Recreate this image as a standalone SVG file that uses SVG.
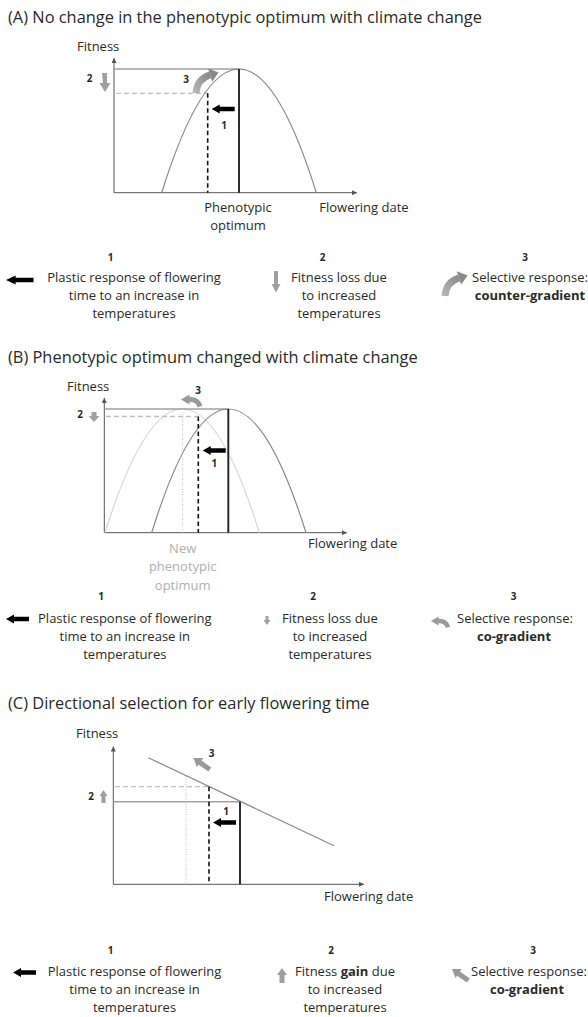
<svg xmlns="http://www.w3.org/2000/svg" width="588" height="1017" viewBox="0 0 588 1017">
<style>
text{font-family:"Open Sans","Liberation Sans",sans-serif;fill:#2a2a2a}
.ttl{font-size:16.4px}
.lab{font-size:13px}
.num{font-size:10px;font-weight:bold}
.leg{font-size:13px;text-anchor:middle}
.mid{text-anchor:middle}
.b{font-weight:bold}
.faint{fill:#b0b0b0}
.ax{stroke:#555;stroke-width:1;fill:none}
.ref{stroke:#a0a0a0;stroke-width:1.6}
.dg{stroke:#c0c0c0;stroke-width:1.3;stroke-dasharray:5 3}
.curve{stroke:#8a8a8a;stroke-width:1.2;fill:none}
.light{stroke:#d6d6d6}
.vd{stroke:#111;stroke-width:1.6;stroke-dasharray:4.5 3}
.vs{stroke:#222;stroke-width:1.9}
.dot{stroke:#c0c0c0;stroke-width:1;stroke-dasharray:1 1.5}
.ga{fill:#a0a0a0}
</style>
<defs>
<marker id="axh" markerUnits="userSpaceOnUse" markerWidth="5" markerHeight="5" refX="5" refY="2.5" orient="auto"><path d="M0,0 L5,2.5 L0,5 Z" fill="#555"/></marker>
<linearGradient id="gg" x1="0" y1="1" x2="1" y2="0"><stop offset="0" stop-color="#b5b5b5"/><stop offset="1" stop-color="#8a8a8a"/></linearGradient>
<path id="blk" d="M0,0 L8,-4.5 L8,-2.3 L23,-2.3 L23,2.3 L8,2.3 L8,4.5 Z" fill="#000"/>
<g id="curveR"><path d="M4,23 Q5,9 18,5" fill="none" stroke="url(#gg)" stroke-width="7"/><path d="M20.1,11.7 L15.9,-1.7 L26.6,2.4 Z" fill="#8a8a8a"/></g>
<g id="curveL"><path d="M20,11.5 Q18,4 9,4.5" fill="none" stroke="#9a9a9a" stroke-width="5"/><path d="M9.5,-0.5 L9.5,9.5 L1,4.5 Z" fill="#9a9a9a"/></g>
<path id="diag" d="M0,0 L8,-5.5 L8,-2.5 L20,-2.5 L20,2.5 L8,2.5 L8,5.5 Z" fill="#9a9a9a"/>
</defs>

<!-- Panel A -->
<g id="panelA">
<text class="ttl" x="8" y="22.7">(A) No change in the phenotypic optimum with climate change</text>
<g id="A-axes">
<line class="ax" x1="114" y1="192.7" x2="114" y2="58" marker-end="url(#axh)"/>
<line class="ax" x1="114" y1="192.7" x2="357" y2="192.7" marker-end="url(#axh)"/>
<text class="lab" x="77" y="50.5">Fitness</text>
<text class="lab" x="319.3" y="211.7">Flowering date</text>
</g>
<g id="A-curve">
<line class="ref" x1="114" y1="69" x2="239" y2="69"/>
<line class="dg" x1="116" y1="93.3" x2="207.7" y2="93.3"/>
<path class="curve" d="M161.7,192.7 Q239,-54.7 316.3,192.7"/>
<line class="vd" x1="207.7" y1="93.3" x2="207.7" y2="192.7"/>
<line class="vs" x1="239" y1="69" x2="239" y2="192.7"/>
</g>
<g id="A-optimum"><text class="lab mid" x="238" y="211.7">Phenotypic</text><text class="lab mid" x="238" y="229.5">optimum</text></g>
<g id="A-arrow1"><use href="#blk" x="211.7" y="109"/><text class="num mid" x="224" y="128.5">1</text></g>
<g id="A-arrow2"><path class="ga" d="M102,73 h5 v10 h3.5 l-5.5,9 l-5.5,-9 h3.5 z"/><text class="num mid" x="89.5" y="81.5">2</text></g>
<g id="A-arrow3"><use href="#curveR" transform="translate(192,70)"/><text class="num mid" x="186" y="82.5">3</text></g>
<g id="A-legend">
<text class="num mid" x="110.6" y="260.5">1</text>
<use href="#blk" transform="translate(6,280) scale(1.2,1)"/>
<text class="leg" x="134" y="282">Plastic response of flowering</text>
<text class="leg" x="134" y="300">time to an increase in</text>
<text class="leg" x="134" y="318">temperatures</text>
<text class="num mid" x="322.5" y="260.5">2</text>
<path class="ga" d="M274,271 h4 v13 h2.5 l-4.5,8.5 l-4.5,-8.5 h2.5 z"/>
<text class="leg" x="339" y="282">Fitness loss due</text>
<text class="leg" x="339" y="300">to increased</text>
<text class="leg" x="339" y="318">temperatures</text>
<text class="num mid" x="525" y="260.5">3</text>
<use href="#curveR" transform="translate(441,273)"/>
<text class="leg" x="530" y="282">Selective response:</text>
<text class="leg b" x="530" y="300">counter-gradient</text>
</g>
</g>

<!-- Panel B -->
<g id="panelB">
<text class="ttl" x="8" y="362.7">(B) Phenotypic optimum changed with climate change</text>
<g id="B-axes">
<line class="ax" x1="104.3" y1="532.7" x2="104.3" y2="398" marker-end="url(#axh)"/>
<line class="ax" x1="104.3" y1="532.7" x2="347" y2="532.7" marker-end="url(#axh)"/>
<text class="lab" x="67" y="391">Fitness</text>
<text class="lab" x="308" y="548.3">Flowering date</text>
</g>
<g id="B-curve">
<path class="curve light" d="M105,532.7 Q182.7,285.3 259.3,532.7"/>
<line class="ref" x1="104.3" y1="409" x2="228.3" y2="409"/>
<line class="dg" x1="106" y1="416.5" x2="198.3" y2="416.5"/>
<path class="curve" d="M151.7,532.7 Q228.3,285.3 306,532.7"/>
<line class="dot" x1="182.7" y1="409" x2="182.7" y2="532.7"/>
<line class="vd" x1="198.3" y1="416.5" x2="198.3" y2="532.7"/>
<line class="vs" x1="228.3" y1="409" x2="228.3" y2="532.7"/>
</g>
<g id="B-optimum"><text class="lab mid faint" x="182.7" y="553">New</text><text class="lab mid faint" x="182.7" y="571">phenotypic</text><text class="lab mid faint" x="182.7" y="589.5">optimum</text></g>
<g id="B-arrow1"><use href="#blk" x="202.7" y="450.5"/><text class="num mid" x="214.3" y="466.5">1</text></g>
<g id="B-arrow2"><path class="ga" d="M91.5,412 h5 v4 h3 l-5.5,6 l-5.5,-6 h3 z"/><text class="num mid" x="80" y="417.5">2</text></g>
<g id="B-arrow3"><use href="#curveL" transform="translate(180,395)"/><text class="num mid" x="198" y="393.5">3</text></g>
<g id="B-legend">
<text class="num mid" x="101" y="600.3">1</text>
<use href="#blk" transform="translate(6,619)"/>
<text class="leg" x="124.8" y="623">Plastic response of flowering</text>
<text class="leg" x="124.8" y="641">time to an increase in</text>
<text class="leg" x="124.8" y="659">temperatures</text>
<text class="num mid" x="313" y="600.3">2</text>
<path class="ga" d="M265.5,616 h3 v4 h2 l-3.5,5 l-3.5,-5 h2 z"/>
<text class="leg" x="330" y="623">Fitness loss due</text>
<text class="leg" x="330" y="641">to increased</text>
<text class="leg" x="330" y="659">temperatures</text>
<text class="num mid" x="513.7" y="600.3">3</text>
<use href="#curveL" transform="translate(430,617) scale(0.9)"/>
<text class="leg" x="515" y="623">Selective response:</text>
<text class="leg b" x="514" y="641">co-gradient</text>
</g>
</g>

<!-- Panel C -->
<g id="panelC">
<text class="ttl" x="8" y="708.7">(C) Directional selection for early flowering time</text>
<g id="C-axes">
<line class="ax" x1="113.3" y1="884.3" x2="113.3" y2="746.5" marker-end="url(#axh)"/>
<line class="ax" x1="113.3" y1="884.3" x2="364" y2="884.3" marker-end="url(#axh)"/>
<text class="lab" x="76" y="737.7">Fitness</text>
<text class="lab" x="324" y="900.7">Flowering date</text>
</g>
<g id="C-curve">
<line class="dg" x1="115" y1="786.7" x2="209" y2="786.7"/>
<line class="ref" x1="113.3" y1="801.7" x2="240" y2="801.7"/>
<line class="curve" x1="148.3" y1="757.7" x2="334" y2="845.7"/>
<line class="dot" x1="186" y1="776.5" x2="186" y2="884.3"/>
<line class="vd" x1="209" y1="786.7" x2="209" y2="884.3"/>
<line class="vs" x1="240" y1="801.7" x2="240" y2="884.3"/>
</g>
<g id="C-arrow1"><use href="#blk" x="213" y="822.5"/><text class="num mid" x="226" y="815">1</text></g>
<g id="C-arrow2"><path class="ga" d="M103.5,790 l4,6 h-2 v7 h-4 v-7 h-2 z"/><text class="num mid" x="91" y="800">2</text></g>
<g id="C-arrow3"><use href="#diag" transform="translate(193.5,758) rotate(35)"/><text class="num mid" x="211.7" y="756.5">3</text></g>
<g id="C-legend">
<text class="num mid" x="110.6" y="953.7">1</text>
<use href="#blk" transform="translate(13,972.5)"/>
<text class="leg" x="134.5" y="976">Plastic response of flowering</text>
<text class="leg" x="134.5" y="994">time to an increase in</text>
<text class="leg" x="134.5" y="1012">temperatures</text>
<text class="num mid" x="331" y="953.7">2</text>
<path class="ga" d="M282,968 l5,7 h-2.5 v8 h-5 v-8 h-2.5 z"/>
<text class="leg" x="345" y="976">Fitness <tspan class="b">gain</tspan> due</text>
<text class="leg" x="345" y="994">to increased</text>
<text class="leg" x="345" y="1012">temperatures</text>
<text class="num mid" x="533" y="953.7">3</text>
<use href="#diag" transform="translate(452,969) rotate(35)"/>
<text class="leg" x="529" y="976">Selective response:</text>
<text class="leg b" x="527" y="994">co-gradient</text>
</g>
</g>
</svg>
